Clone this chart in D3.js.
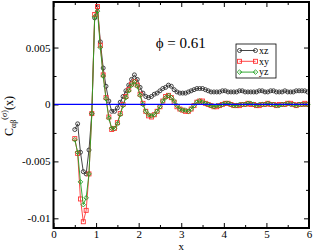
<!DOCTYPE html>
<html>
<head>
<meta charset="utf-8">
<script src="https://cdn.jsdelivr.net/npm/d3@7"></script>
<style>
  body { margin: 0; background: #fff; }
  svg text { font-family: "Liberation Serif", "DejaVu Serif", serif; }
</style>
</head>
<body>
<div id="chart"></div>
<script>
// x positions of the samples
var xs = [0.500, 0.567, 0.633, 0.700, 0.767, 0.833, 0.900, 0.967, 1.033, 1.100,
          1.167, 1.233, 1.300, 1.367, 1.433, 1.500, 1.567, 1.633, 1.700, 1.767,
          1.833, 1.900, 1.967, 2.033, 2.100, 2.167, 2.233, 2.300, 2.367, 2.433,
          2.500, 2.567, 2.633, 2.700, 2.767, 2.833, 2.900, 2.967, 3.033, 3.100,
          3.167, 3.233, 3.300, 3.367, 3.433, 3.500, 3.567, 3.633, 3.700, 3.767,
          3.833, 3.900, 3.967, 4.033, 4.100, 4.167, 4.233, 4.300, 4.367, 4.433,
          4.500, 4.567, 4.633, 4.700, 4.767, 4.833, 4.900, 4.967, 5.033, 5.100,
          5.167, 5.233, 5.300, 5.367, 5.433, 5.500, 5.567, 5.633, 5.700, 5.767,
          5.833, 5.900, 5.967];

var xz = [-0.0022, -0.0017, -0.0042, -0.0059, -0.0061, -0.0040, -0.0008, 0.0076, 0.0085, 0.0055,
          0.0032, 0.0016, 0.0003, -0.0006, -0.0006, -0.0003, 0.0002, 0.0007, 0.0012, 0.0017,
          0.0022, 0.0026, 0.0022, 0.0015, 0.0010, 0.0007, 0.0006, 0.0007, 0.0009, 0.0010,
          0.0012, 0.0014, 0.0015, 0.0017, 0.0016, 0.0013, 0.0011, 0.0010, 0.0010, 0.0010,
          0.0011, 0.0012, 0.0013, 0.0014, 0.0014, 0.0014, 0.0013, 0.0012, 0.0011, 0.0011,
          0.0011, 0.0011, 0.0012, 0.0012, 0.0011, 0.0011, 0.0011, 0.0011, 0.0012, 0.0012,
          0.0011, 0.0011, 0.0011, 0.0011, 0.0011, 0.0012, 0.0012, 0.0011, 0.0011, 0.0012,
          0.0012, 0.0011, 0.0011, 0.0011, 0.0012, 0.0011, 0.0011, 0.0011, 0.0012, 0.0012,
          0.0012, 0.0012, 0.0011];

var xy = [-0.0030, -0.0043, -0.0083, -0.0103, -0.0093, -0.0061, -0.0008, 0.0079, 0.0086, 0.0052,
          0.0026, 0.0006, -0.0011, -0.0022, -0.0021, -0.0016, -0.0008, 0.0000, 0.0007, 0.0013,
          0.0018, 0.0020, 0.0017, 0.0009, 0.0001, -0.0006, -0.0010, -0.0011, -0.0009, -0.0006,
          -0.0002, 0.0003, 0.0007, 0.0008, 0.0006, 0.0002, -0.0002, -0.0004, -0.0005, -0.0006,
          -0.0006, -0.0004, -0.0001, 0.0002, 0.0003, 0.0003, 0.0001, 0.0000, -0.0001, -0.0002,
          -0.0002, -0.0001, 0.0000, 0.0001, 0.0001, 0.0000, -0.0001, -0.0001, -0.0001, 0.0000,
          0.0000, 0.0001, 0.0000, 0.0000, -0.0001, -0.0001, 0.0000, 0.0000, 0.0001, 0.0000,
          0.0000, -0.0001, 0.0000, 0.0000, 0.0000, 0.0001, 0.0001, 0.0000, -0.0001, 0.0000,
          0.0000, 0.0001, 0.0000];

var yz = [-0.0031, -0.0042, -0.0068, -0.0088, -0.0082, -0.0061, -0.0008, 0.0077, 0.0082, 0.0050,
          0.0025, 0.0005, -0.0012, -0.0021, -0.0021, -0.0017, -0.0009, -0.0001, 0.0006, 0.0012,
          0.0017, 0.0020, 0.0016, 0.0008, 0.0000, -0.0006, -0.0009, -0.0010, -0.0009, -0.0006,
          -0.0002, 0.0003, 0.0006, 0.0008, 0.0006, 0.0003, -0.0001, -0.0004, -0.0005, -0.0005,
          -0.0006, -0.0004, -0.0001, 0.0002, 0.0003, 0.0002, 0.0001, 0.0000, -0.0001, -0.0002,
          -0.0001, -0.0001, 0.0000, 0.0001, 0.0001, 0.0000, -0.0001, -0.0001, 0.0000, 0.0000,
          0.0000, 0.0001, 0.0001, 0.0000, -0.0001, 0.0000, 0.0000, 0.0000, 0.0001, 0.0000,
          0.0000, -0.0001, -0.0001, 0.0000, 0.0000, 0.0001, 0.0000, 0.0000, -0.0001, 0.0000,
          0.0000, 0.0000, 0.0000];

var xTicks = [0, 1, 2, 3, 4, 5, 6];
var xMinor = [0.5, 1.5, 2.5, 3.5, 4.5, 5.5];
var yTicks = [-0.01, -0.005, 0, 0.005];
var yTickLabels = ["-0.01", "-0.005", "0", "0.005"];
var yMinor = [-0.0075, -0.0025, 0.0025, 0.0075];
var seriesNames = ["xz", "xy", "yz"];
var seriesColors = ["#303030", "#ff3333", "#22a022"];

var W = 313, H = 251;
var margin = {top: 2, right: 4, bottom: 23, left: 53.5};
var w = W - margin.left - margin.right, h = H - margin.top - margin.bottom;

var svg = d3.select("#chart").append("svg")
    .attr("width", W).attr("height", H);
var g = svg.append("g")
    .attr("transform", "translate(" + margin.left + "," + margin.top + ")");

var x = d3.scaleLinear().domain([0, 6]).range([0, w]);
var y = d3.scaleLinear().domain([-0.01085, 0.0090]).range([h, 0]);

// axes, ticks point inward
function tickAxis(axis, vals, size, fmt) {
    return axis.tickValues(vals).tickSize(size).tickSizeOuter(0)
        .tickPadding(3).tickFormat(fmt);
}
var noLabel = function() { return ""; };
var yLabel = function(d) { return yTickLabels[yTicks.indexOf(d)]; };

g.append("g").attr("transform", "translate(0," + h + ")")
    .call(tickAxis(d3.axisBottom(x), xTicks, -5, d3.format("d")).tickPadding(2))
    .attr("class", "ax");
g.append("g").attr("transform", "translate(0," + h + ")")
    .call(tickAxis(d3.axisBottom(x), xMinor, -3, noLabel)).attr("class", "ax");
g.append("g")
    .call(tickAxis(d3.axisTop(x), xTicks, -5, noLabel)).attr("class", "ax");
g.append("g")
    .call(tickAxis(d3.axisTop(x), xMinor, -3, noLabel)).attr("class", "ax");
g.append("g")
    .call(tickAxis(d3.axisLeft(y), yTicks, -5, yLabel)).attr("class", "ax");
g.append("g")
    .call(tickAxis(d3.axisLeft(y), yMinor, -3, noLabel)).attr("class", "ax");
g.append("g").attr("transform", "translate(" + w + ",0)")
    .call(tickAxis(d3.axisRight(y), yTicks, -5, noLabel)).attr("class", "ax");
g.append("g").attr("transform", "translate(" + w + ",0)")
    .call(tickAxis(d3.axisRight(y), yMinor, -3, noLabel)).attr("class", "ax");

g.selectAll(".ax .domain").remove();
g.selectAll(".ax line").attr("stroke", "#000").attr("stroke-width", 1);
g.selectAll(".ax text").attr("font-size", 11)
    .attr("font-family", "Liberation Serif").attr("fill", "#000");

// series
var allSeries = [xz, xy, yz];
var line = d3.line().x(function(d, i) { return x(xs[i]); }).y(function(d) { return y(d); });

function drawMarker(sel, k, cx, cy) {
    var c = seriesColors[k];
    if (k === 0) {
        sel.append("circle").attr("cx", cx).attr("cy", cy).attr("r", 2)
            .attr("fill", "none").attr("stroke", c).attr("stroke-width", 0.9);
    } else if (k === 1) {
        sel.append("rect").attr("x", cx - 2).attr("y", cy - 2)
            .attr("width", 4).attr("height", 4)
            .attr("fill", "none").attr("stroke", c).attr("stroke-width", 0.9);
    } else {
        sel.append("path")
            .attr("d", "M" + (cx - 2.3) + "," + cy + "L" + cx + "," + (cy - 2.3) +
                  "L" + (cx + 2.3) + "," + cy + "L" + cx + "," + (cy + 2.3) + "Z")
            .attr("fill", "none").attr("stroke", c).attr("stroke-width", 0.9);
    }
}

allSeries.forEach(function(vals, k) {
    var sg = g.append("g");
    sg.append("path").datum(vals)
        .attr("d", line).attr("fill", "none")
        .attr("stroke", seriesColors[k]).attr("stroke-width", 0.9);
    vals.forEach(function(v, i) { drawMarker(sg, k, x(xs[i]), y(v)); });
});

// zero line
g.append("line")
    .attr("x1", 0).attr("x2", w)
    .attr("y1", y(0)).attr("y2", y(0))
    .attr("stroke", "#0000ff").attr("stroke-width", 1.2);

// frame
g.append("rect").attr("width", w).attr("height", h)
    .attr("fill", "none").attr("stroke", "#000").attr("stroke-width", 2);

// phi annotation
g.append("text").attr("x", x(2.4)).attr("y", y(0.00495))
    .attr("font-size", 15).text("ϕ = 0.61");

// legend
var lg = svg.append("g").attr("transform", "translate(236,44)");
lg.append("rect").attr("width", 40).attr("height", 34)
    .attr("fill", "#fff").attr("stroke", "#000").attr("stroke-width", 0.8);
seriesNames.forEach(function(name, k) {
    var ly = 6.5 + k * 10.8;
    lg.append("line").attr("x1", 3.5).attr("x2", 19.5)
        .attr("y1", ly).attr("y2", ly)
        .attr("stroke", seriesColors[k]).attr("stroke-width", 0.9);
    drawMarker(lg, k, 3.5, ly);
    drawMarker(lg, k, 19.5, ly);
    lg.append("text").attr("x", 23).attr("y", ly + 3.2)
        .attr("font-size", 10).text(name);
});

// axis titles
svg.append("text").attr("x", margin.left + x(3)).attr("y", 250)
    .attr("text-anchor", "middle").attr("font-size", 11).text("x");

var yt = svg.append("text")
    .attr("transform", "translate(13,116) rotate(-90)")
    .attr("text-anchor", "middle").attr("font-size", 12).attr("font-family", "Liberation Sans");
yt.append("tspan").text("C");
yt.append("tspan").attr("font-size", 8).attr("dy", 3).text("αβ");
yt.append("tspan").attr("font-size", 8).attr("dy", -9).text("(σ)");
yt.append("tspan").attr("dy", 6).text("(x)");
</script>
</body>
</html>
